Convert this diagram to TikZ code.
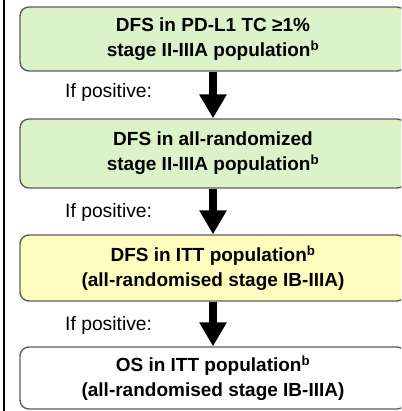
\documentclass[tikz,border=0pt]{standalone}
\usepackage{fontspec}
\setmainfont{Liberation Sans}
\usetikzlibrary{arrows.meta}
\definecolor{lgreen}{HTML}{DCF2C9}
\definecolor{lyellow}{HTML}{FFFDBE}
\definecolor{boxgray}{HTML}{5E5E5E}
\begin{document}
\begin{tikzpicture}[x=1pt,y=-1pt,
  box/.style={draw=boxgray, line width=1.4pt, rounded corners=9pt,
    minimum width=386pt, align=center, inner sep=0pt,
    font=\fontsize{19}{25}\selectfont\bfseries},
  flow/.style={-{Triangle[width=26pt,length=24pt]}, line width=8.5pt},
  cond/.style={anchor=base west, inner sep=0pt, font=\fontsize{19.3}{22}\selectfont}
]
\useasboundingbox (0,0) rectangle (401,411);
\clip (0,0) rectangle (401,411);
\draw[line width=2pt] (3.5,0) -- (3.5,411);

\node[box, fill=lgreen, minimum height=64pt] (b1) at (213,39)
  {DFS in PD-L1 TC ≥1\%\\stage II-IIIA population\textsuperscript{b}};
\node[box, fill=lgreen, minimum height=69pt] (b2) at (213,153.5)
  {DFS in all-randomized\\stage II-IIIA population\textsuperscript{b}};
\node[box, fill=lyellow, minimum height=66pt] (b3) at (213,268)
  {DFS in ITT population\textsuperscript{b}\\(all-randomised stage IB-IIIA)};
\node[box, fill=white, minimum height=62pt] (b4) at (213,378)
  {OS in ITT population\textsuperscript{b}\\(all-randomised stage IB-IIIA)};

\draw[flow] (b1.south) -- (b2.north);
\draw[flow] (b2.south) -- (b3.north);
\draw[flow] (b3.south) -- (b4.north);

\node[cond] (p1) at (65,98) {If positive:};
\node[cond] (p2) at (65,218) {If positive:};
\node[cond] (p3) at (65,330) {If positive:};
\end{tikzpicture}
\end{document}
